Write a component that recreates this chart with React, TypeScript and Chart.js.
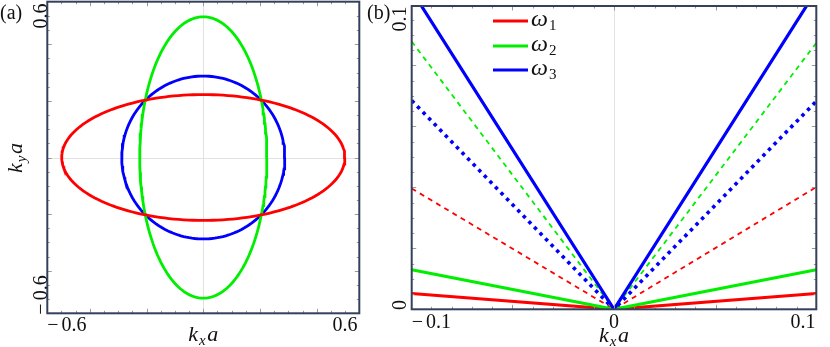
import React, { useEffect, useRef, useState } from "react";
import { Chart, registerables } from "chart.js";
Chart.register(...registerables);

const W = 830;
const H = 347;
const SERIF = "'Liberation Serif', 'Times New Roman', serif";

// ---------- Panel (a): iso-frequency contours ----------
const contourNames = ["ω1", "ω2", "ω3"];
const contourColors = ["#ff0000", "#00ee00", "#0000ff"];
const semiAxisX = [0.599, 0.269, 0.345];
const semiAxisY = [0.2665, 0.596, 0.345];
const rangeA = 0.66;
const tickLabelsA = [-0.6, 0.6];
const majorStepA = 0.24;
const minorStepA = 0.06;

// ---------- Panel (b): dispersion along kx ----------
const kx = [-0.107, 0, 0.107];
const omega1Solid = [0.0054, 0, 0.0054];
const omega2Solid = [0.0136, 0, 0.0136];
const omega3Solid = [0.1095, 0, 0.1095];
const omega1Dashed = [0.0415, 0, 0.042];
const omega2Dashed = [0.092, 0, 0.0915];
const omega3Dotted = [0.0717, 0, 0.0715];
const xRangeB = 0.107;
const yMaxB = 0.1042;
const xTickLabelsB = [-0.1, 0, 0.1];
const yTickLabelsB = [0, 0.1];
const majorStepBX = 0.0537;
const minorStepBX = 0.01074;
const majorStepBY = 0.02096;
const minorStepBY = 0.00524;
const legendSubs = ["1", "2", "3"];
const legendColors = ["#ff0000", "#00ee00", "#0000ff"];
const legendY = [21, 46, 70];

const FRAME = "#34405c";
const TICK = "#9a9a9a";
const GRID = "#e2e2e2";

type Piece = { t: string; size: number; italic?: boolean; dy?: number; ml?: number };
type Label = { key: string; x: number; y: number; rot: number; center: boolean; size: number; pieces: Piece[] };

const ASC = 0.8375; // baseline offset for line-height 1 (Liberation Serif)

function numWidth(v: number, size: number) {
  const s = String(Math.abs(v));
  let w = 0;
  for (const ch of s) w += ch === "." ? 0.25 * size : 0.5 * size;
  if (v < 0) w += 0.564 * size + 3;
  return w;
}
function numPieces(v: number, size: number): Piece[] {
  const s = String(Math.abs(v));
  if (v < 0) return [{ t: "−", size }, { t: s, size, ml: 3 }];
  return [{ t: s, size }];
}
function kPieces(sub: string): Piece[] {
  return [
    { t: "k", size: 22, italic: true },
    { t: sub, size: 15, italic: true, dy: 4, ml: 1 },
    { t: "a", size: 22, italic: true, ml: 1.5 },
  ];
}

function tickValues(step: number, lo: number, hi: number) {
  const out: number[] = [];
  const n = Math.ceil(Math.abs(lo) / step) + 1;
  for (let i = -n; i <= Math.ceil(hi / step) + 1; i++) {
    const v = i * step;
    if (v > lo + 1e-9 && v < hi - 1e-9) out.push(v);
  }
  return out;
}

type Decor = {
  xMajor: number[];
  xMinor: number[];
  yMajor: number[];
  yMinor: number[];
  gridX: number[];
  gridY: number[];
  legend?: boolean;
};

function decorPlugin(d: Decor) {
  return {
    id: "decor",
    beforeDatasetsDraw(chart: any) {
      const ctx: CanvasRenderingContext2D = chart.ctx;
      const a = chart.chartArea;
      const xs = chart.scales.x;
      const ys = chart.scales.y;
      ctx.save();
      ctx.strokeStyle = GRID;
      ctx.lineWidth = 1;
      for (const v of d.gridX) {
        const px = Math.round(xs.getPixelForValue(v)) + 0.5;
        ctx.beginPath();
        ctx.moveTo(px, a.top);
        ctx.lineTo(px, a.bottom);
        ctx.stroke();
      }
      for (const v of d.gridY) {
        const py = Math.round(ys.getPixelForValue(v)) + 0.5;
        ctx.beginPath();
        ctx.moveTo(a.left, py);
        ctx.lineTo(a.right, py);
        ctx.stroke();
      }
      ctx.restore();
    },
    afterDraw(chart: any) {
      const ctx: CanvasRenderingContext2D = chart.ctx;
      const a = chart.chartArea;
      const xs = chart.scales.x;
      const ys = chart.scales.y;
      ctx.save();
      ctx.strokeStyle = TICK;
      ctx.lineWidth = 1;
      const tick = (vals: number[], len: number, horiz: boolean) => {
        for (const v of vals) {
          ctx.beginPath();
          if (horiz) {
            const px = Math.round(xs.getPixelForValue(v)) + 0.5;
            ctx.moveTo(px, a.bottom);
            ctx.lineTo(px, a.bottom - len);
            ctx.moveTo(px, a.top);
            ctx.lineTo(px, a.top + len);
          } else {
            const py = Math.round(ys.getPixelForValue(v)) + 0.5;
            ctx.moveTo(a.left, py);
            ctx.lineTo(a.left + len, py);
            ctx.moveTo(a.right, py);
            ctx.lineTo(a.right - len, py);
          }
          ctx.stroke();
        }
      };
      tick(d.xMinor, 2.5, true);
      tick(d.xMajor, 4.5, true);
      tick(d.yMinor, 2.5, false);
      tick(d.yMajor, 4.5, false);
      ctx.strokeStyle = FRAME;
      ctx.lineWidth = 2;
      ctx.strokeRect(a.left, a.top, a.right - a.left, a.bottom - a.top);
      if (d.legend) {
        legendY.forEach((y, i) => {
          ctx.strokeStyle = legendColors[i];
          ctx.lineWidth = 3;
          ctx.beginPath();
          ctx.moveTo(493, y);
          ctx.lineTo(528, y);
          ctx.stroke();
        });
      }
      ctx.restore();
    },
  };
}

function ellipse(ax: number, by: number) {
  const pts: { x: number; y: number }[] = [];
  for (let deg = 0; deg <= 360; deg += 2) {
    const t = (deg * Math.PI) / 180;
    pts.push({ x: ax * Math.cos(t), y: by * Math.sin(t) });
  }
  return pts;
}

function configA(): any {
  return {
    type: "scatter",
    data: {
      datasets: contourNames.map((name, i) => ({
        label: name,
        data: ellipse(semiAxisX[i], semiAxisY[i]),
        showLine: true,
        borderColor: contourColors[i],
        backgroundColor: contourColors[i],
        borderWidth: 2.8,
        pointRadius: 0,
        tension: 0,
        clip: 0,
      })),
    },
    options: {
      animation: false,
      responsive: false,
      events: [],
      layout: { padding: { left: 47.3, right: W - 359.3, top: 1.7, bottom: H - 313.3 } },
      plugins: { legend: { display: false }, tooltip: { enabled: false } },
      scales: {
        x: { type: "linear", display: false, min: -rangeA, max: rangeA },
        y: { type: "linear", display: false, min: -rangeA, max: rangeA },
      },
    },
    plugins: [
      decorPlugin({
        xMajor: tickValues(majorStepA, -rangeA, rangeA),
        xMinor: tickValues(minorStepA, -rangeA, rangeA),
        yMajor: tickValues(majorStepA, -rangeA, rangeA),
        yMinor: tickValues(minorStepA, -rangeA, rangeA),
        gridX: [0],
        gridY: [0],
      }),
    ],
  };
}

function configB(): any {
  const pts = (vals: number[]) => kx.map((x, i) => ({ x, y: vals[i] }));
  const base = { showLine: true, pointRadius: 0, tension: 0, clip: 0 };
  return {
    type: "scatter",
    data: {
      datasets: [
        { ...base, label: "ω3", data: pts(omega3Solid), borderColor: "#0000ff", borderWidth: 3.2, order: 0 },
        { ...base, label: "ω2", data: pts(omega2Solid), borderColor: "#00ee00", borderWidth: 3, order: 1 },
        { ...base, label: "ω1", data: pts(omega1Solid), borderColor: "#ff0000", borderWidth: 3, order: 2 },
        { ...base, label: "ω3 dotted", data: pts(omega3Dotted), borderColor: "#0000ff", borderWidth: 3.6, borderDash: [3.5, 4.5], order: 3 },
        { ...base, label: "ω2 dashed", data: pts(omega2Dashed), borderColor: "#00ee00", borderWidth: 1.8, borderDash: [5, 4.5], order: 4 },
        { ...base, label: "ω1 dashed", data: pts(omega1Dashed), borderColor: "#ff0000", borderWidth: 1.8, borderDash: [5, 4.5], order: 5 },
      ],
    },
    options: {
      animation: false,
      responsive: false,
      events: [],
      layout: { padding: { left: 411.7, right: W - 816.3, top: 6, bottom: H - 309.3 } },
      plugins: { legend: { display: false }, tooltip: { enabled: false } },
      scales: {
        x: { type: "linear", display: false, min: -xRangeB, max: xRangeB },
        y: { type: "linear", display: false, min: 0, max: yMaxB },
      },
    },
    plugins: [
      decorPlugin({
        xMajor: tickValues(majorStepBX, -xRangeB, xRangeB),
        xMinor: tickValues(minorStepBX, -xRangeB, xRangeB),
        yMajor: tickValues(majorStepBY, 0, yMaxB),
        yMinor: tickValues(minorStepBY, 0, yMaxB),
        gridX: [0],
        gridY: [],
        legend: true,
      }),
    ],
  };
}

function axisLabels(
  chart: any,
  id: string,
  xVals: number[],
  yVals: number[],
  xBaseline: number,
  yBaseX: number
): Label[] {
  const a = chart.chartArea;
  const xs = chart.scales.x;
  const ys = chart.scales.y;
  const out: Label[] = [];
  xVals.forEach((v, i) => {
    const w = numWidth(v, 20);
    let left = xs.getPixelForValue(v) - w / 2;
    left = Math.max(a.left, Math.min(a.right + 1 - w, left));
    out.push({ key: `${id}x${i}`, x: left + w / 2, y: xBaseline, rot: 0, center: true, size: 20, pieces: numPieces(v, 20) });
  });
  yVals.forEach((v, i) => {
    const w = numWidth(v, 20);
    let c = ys.getPixelForValue(v);
    c = Math.max(a.top + w / 2, Math.min(a.bottom + 1 - w / 2, c));
    out.push({ key: `${id}y${i}`, x: yBaseX, y: c, rot: -90, center: true, size: 20, pieces: numPieces(v, 20) });
  });
  return out;
}

function buildLabels(ca: any, cb: any): Label[] {
  const aa = ca.chartArea;
  const ab = cb.chartArea;
  const out: Label[] = [
    ...axisLabels(ca, "a", tickLabelsA, tickLabelsA, 331, 46.5),
    ...axisLabels(cb, "b", xTickLabelsB, yTickLabelsB, 327.5, 406),
    { key: "ta", x: (aa.left + aa.right) / 2, y: 341, rot: 0, center: true, size: 22, pieces: kPieces("x") },
    { key: "tay", x: 22, y: (aa.top + aa.bottom) / 2, rot: -90, center: true, size: 22, pieces: kPieces("y") },
    { key: "tb", x: (ab.left + ab.right) / 2, y: 342, rot: 0, center: true, size: 22, pieces: kPieces("x") },
    { key: "pa", x: 0, y: 19, rot: 0, center: false, size: 20, pieces: [{ t: "(a)", size: 20 }] },
    { key: "pb", x: 367, y: 19, rot: 0, center: false, size: 20, pieces: [{ t: "(b)", size: 20 }] },
  ];
  legendSubs.forEach((s, i) => {
    out.push({
      key: `lg${i}`,
      x: 531,
      y: legendY[i] + 5,
      rot: 0,
      center: false,
      size: 24,
      pieces: [
        { t: "ω", size: 24, italic: true },
        { t: s, size: 15, dy: 4, ml: 1 },
      ],
    });
  });
  return out;
}

function TextLabel({ l }: { l: Label }) {
  return (
    <div
      style={{
        position: "absolute",
        left: l.x,
        top: l.y,
        width: 0,
        height: 0,
        transform: l.rot ? `rotate(${l.rot}deg)` : undefined,
        transformOrigin: "0 0",
      }}
    >
      <div
        style={{
          position: "absolute",
          left: 0,
          top: -ASC * l.size,
          whiteSpace: "nowrap",
          lineHeight: 1,
          fontSize: l.size,
          fontFamily: SERIF,
          color: "#111",
          transform: l.center ? "translateX(-50%)" : undefined,
        }}
      >
        {l.pieces.map((p, i) => (
          <span
            key={i}
            style={{
              fontSize: p.size,
              fontStyle: p.italic ? "italic" : "normal",
              position: "relative",
              top: p.dy || 0,
              marginLeft: p.ml || 0,
            }}
          >
            {p.t}
          </span>
        ))}
      </div>
    </div>
  );
}

export default function App() {
  const refA = useRef<HTMLCanvasElement>(null);
  const refB = useRef<HTMLCanvasElement>(null);
  const [labels, setLabels] = useState<Label[]>([]);
  useEffect(() => {
    const ca = new Chart(refA.current as HTMLCanvasElement, configA());
    const cb = new Chart(refB.current as HTMLCanvasElement, configB());
    setLabels(buildLabels(ca, cb));
    return () => {
      ca.destroy();
      cb.destroy();
    };
  }, []);
  const cs: React.CSSProperties = { position: "absolute", left: 0, top: 0, width: W, height: H };
  return (
    <div style={{ position: "fixed", left: 0, top: 0, width: W, height: H, background: "#fff", overflow: "hidden" }}>
      <canvas ref={refA} width={W} height={H} style={cs} />
      <canvas ref={refB} width={W} height={H} style={cs} />
      {labels.map((l) => (
        <TextLabel key={l.key} l={l} />
      ))}
    </div>
  );
}
